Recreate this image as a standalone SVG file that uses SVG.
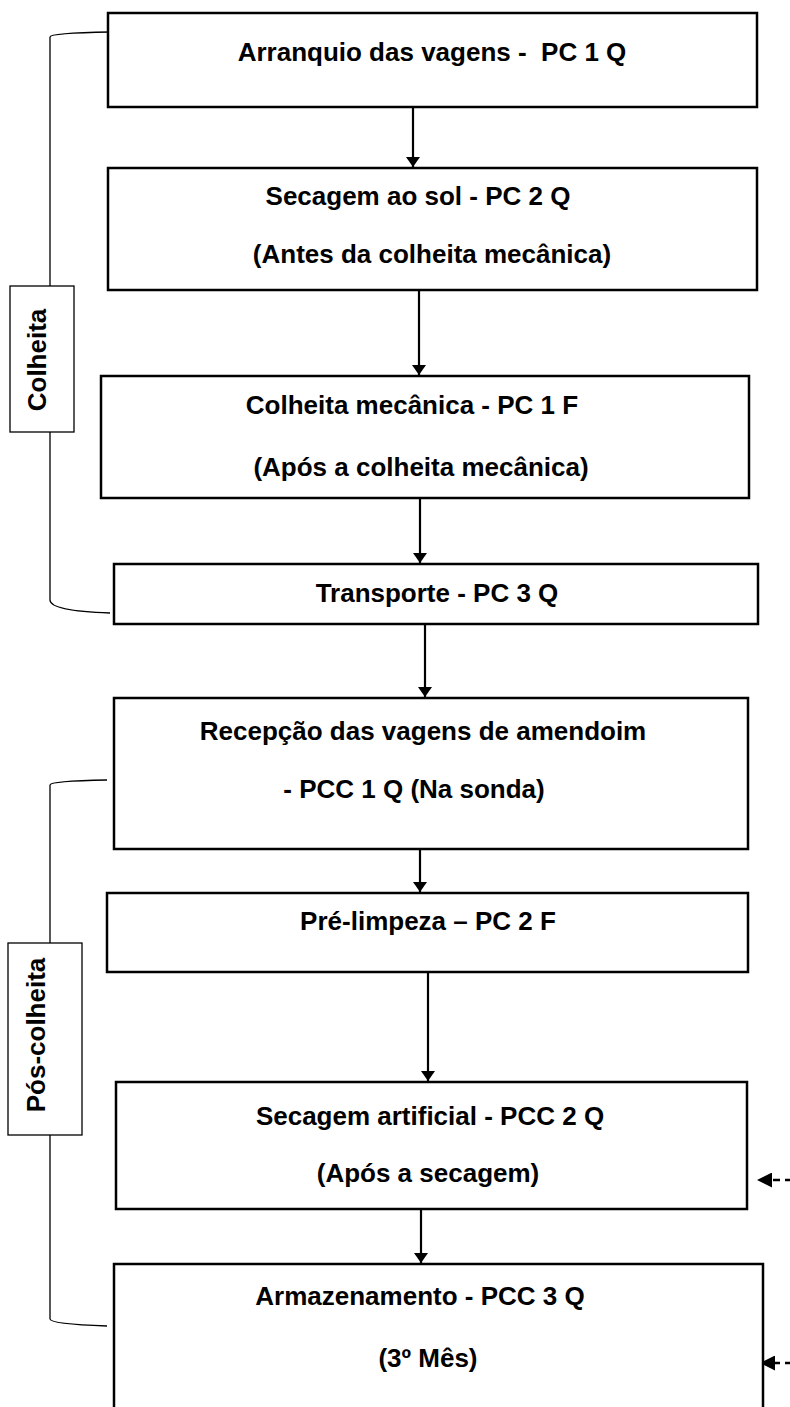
<svg xmlns="http://www.w3.org/2000/svg" width="790" height="1407" viewBox="0 0 790 1407">
<defs>
<marker id="ah" markerWidth="10" markerHeight="14" refX="10" refY="7" orient="auto" markerUnits="userSpaceOnUse">
<path d="M0,0 L10,7 L0,14 Z" fill="#000"/>
</marker>
<marker id="ahd" markerWidth="15" markerHeight="15" refX="15" refY="7.5" orient="auto" markerUnits="userSpaceOnUse">
<path d="M0,0 L15,7.5 L0,15 Z" fill="#000"/>
</marker>
<style>
.box{fill:#fff;stroke:#000;stroke-width:2.5}
.lbl{fill:#fff;stroke:#000;stroke-width:1.3}
.t{font-family:"Liberation Sans",Arial,sans-serif;font-weight:bold;font-size:26px;text-anchor:middle;fill:#000}
.c{stroke:#000;stroke-width:2.2;fill:none}
.br{stroke:#000;stroke-width:1.3;fill:none}
.d{stroke:#000;stroke-width:2.5;fill:none;stroke-dasharray:7,5}
</style>
</defs>
<g id="connectors">
<line class="c" x1="413" y1="107" x2="413" y2="167" marker-end="url(#ah)"/>
<line class="c" x1="419" y1="290" x2="419" y2="375" marker-end="url(#ah)"/>
<line class="c" x1="420" y1="498" x2="420" y2="563" marker-end="url(#ah)"/>
<line class="c" x1="425" y1="624" x2="425" y2="697" marker-end="url(#ah)"/>
<line class="c" x1="420" y1="849" x2="420" y2="892" marker-end="url(#ah)"/>
<line class="c" x1="428" y1="972" x2="428" y2="1081" marker-end="url(#ah)"/>
<line class="c" x1="421" y1="1209" x2="421" y2="1263" marker-end="url(#ah)"/>
<line class="d" x1="792" y1="1180" x2="757" y2="1180" marker-end="url(#ahd)"/>
<line class="d" x1="792" y1="1363" x2="760" y2="1363" marker-end="url(#ahd)"/>
<path class="br" d="M110,32 Q50,33 50,37 L50,600 Q50,611 110,613"/>
<path class="br" d="M107,780 Q50,781 50,785 L50,1319 Q50,1324 107,1326"/>
</g>
<g id="label-colheita">
<rect class="lbl" x="10" y="286" width="64" height="146"/>
<text class="t" transform="translate(46,360) rotate(-90)">Colheita</text>
</g>
<g id="label-pos-colheita">
<rect class="lbl" x="8" y="943" width="74" height="192"/>
<text class="t" transform="translate(45,1035) rotate(-90)">Pós-colheita</text>
</g>
<g id="n1">
<rect class="box" x="108" y="13" width="649" height="94"/>
<text class="t" x="432" y="61">Arranquio das vagens - &#160;PC 1 Q</text>
</g>
<g id="n2">
<rect class="box" x="108" y="168" width="649" height="122"/>
<text class="t" x="418" y="205">Secagem ao sol - PC 2 Q</text>
<text class="t" x="432" y="263">(Antes da colheita mecânica)</text>
</g>
<g id="n3">
<rect class="box" x="101" y="376" width="648" height="122"/>
<text class="t" x="412" y="414">Colheita mecânica - PC 1 F</text>
<text class="t" x="421" y="476">(Após a colheita mecânica)</text>
</g>
<g id="n4">
<rect class="box" x="114" y="564" width="644" height="60"/>
<text class="t" x="437" y="602">Transporte - PC 3 Q</text>
</g>
<g id="n5">
<rect class="box" x="114" y="698" width="634" height="151"/>
<text class="t" x="423" y="740">Recepção das vagens de amendoim</text>
<text class="t" x="414" y="798">- PCC 1 Q (Na sonda)</text>
</g>
<g id="n6">
<rect class="box" x="107" y="893" width="641" height="79"/>
<text class="t" x="428" y="930">Pré-limpeza – PC 2 F</text>
</g>
<g id="n7">
<rect class="box" x="116" y="1082" width="631" height="127"/>
<text class="t" x="430" y="1125">Secagem artificial - PCC 2 Q</text>
<text class="t" x="428" y="1182">(Após a secagem)</text>
</g>
<g id="n8">
<rect class="box" x="114" y="1264" width="649" height="160"/>
<text class="t" x="420" y="1305">Armazenamento - PCC 3 Q</text>
<text class="t" x="428" y="1367">(3º Mês)</text>
</g>
</svg>
